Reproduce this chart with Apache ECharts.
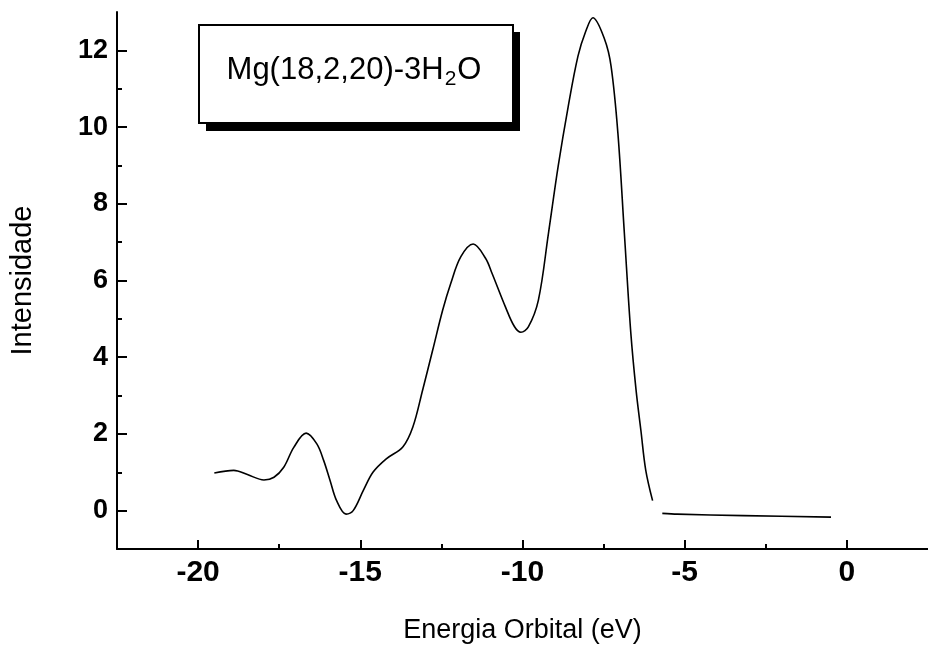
<!DOCTYPE html>
<html>
<head>
<meta charset="utf-8">
<script src="https://cdn.jsdelivr.net/npm/echarts@6/dist/echarts.min.js"></script>
<style>
html,body{margin:0;padding:0;background:#fff;}
#chart{width:928px;height:650px;}
</style>
</head>
<body>
<div id="chart"></div>
<script>
// Main curve (eV, intensity)
const energy = [-19.5, -18.9, -18.48, -17.97, -17.66, -17.36, -17.05, -16.67, -16.34, -16.13, -15.93, -15.73, -15.44, -15.22, -14.91, -14.61, -14.2, -13.69, -13.38, -13.08, -12.77, -12.46, -12.21, -11.9, -11.52, -11.14, -10.94, -10.53, -10.25, -10.05, -9.82, -9.51, -9.2, -8.9, -8.59, -8.29, -8.05, -7.83, -7.47, -7.27, -7.06, -6.86, -6.66, -6.5, -6.35, -6.2, -5.99];
const intensity = [0.98, 1.05, 0.94, 0.80, 0.87, 1.13, 1.65, 2.02, 1.74, 1.31, 0.78, 0.26, -0.09, 0.0, 0.52, 1.0, 1.35, 1.66, 2.18, 3.14, 4.18, 5.23, 5.93, 6.62, 6.95, 6.58, 6.19, 5.32, 4.8, 4.65, 4.79, 5.49, 7.23, 8.98, 10.54, 11.85, 12.5, 12.85, 12.29, 11.59, 9.85, 7.23, 4.62, 3.15, 2.09, 1.05, 0.26];
// Flat tail segment
const tailEnergy = [-5.69, -5.23, -3.19, -0.49];
const tailIntensity = [-0.07, -0.09, -0.13, -0.17];
// Ticks
const xMajorTicks = [-20, -15, -10, -5, 0];
const xMinorTicks = [-17.5, -12.5, -7.5, -2.5];
const yMajorTicks = [0, 2, 4, 6, 8, 10, 12];
const yMinorTicks = [1, 3, 5, 7, 9, 11];
const legendLabel = 'Mg(18,2,20)-3H';
const xTitle = 'Energia Orbital (eV)';
const yTitle = 'Intensidade';

const FONT = '"Liberation Sans", Arial, Helvetica, sans-serif';
const chart = echarts.init(document.getElementById('chart'), null, {renderer: 'canvas'});

const mainData = energy.map((x, i) => [x, intensity[i]]);
const tailData = tailEnergy.map((x, i) => [x, tailIntensity[i]]);

const X_MIN = -22.5, X_MAX = 2.5, Y_MIN = -1, Y_MAX = 13;

function tickAxis(min, max, pos, values, len) {
  return {
    type: 'value', min: min, max: max, position: pos,
    axisLine: {show: false, onZero: false},
    splitLine: {show: false},
    axisTick: {show: true, inside: true, length: len, customValues: values, lineStyle: {color: '#000', width: 2}},
    axisLabel: {show: false}
  };
}

chart.setOption({
  animation: false,
  backgroundColor: '#fff',
  grid: {left: 116, right: 0, top: 12, bottom: 101, containLabel: false},
  xAxis: [{
    type: 'value', min: X_MIN, max: X_MAX, position: 'bottom',
    axisLine: {show: true, onZero: false, lineStyle: {color: '#000', width: 2}},
    splitLine: {show: false},
    axisTick: {show: false},
    axisLabel: {show: true, customValues: xMajorTicks, margin: 9, color: '#000', fontFamily: FONT, fontWeight: 'bold', fontSize: 30},
    name: xTitle, nameLocation: 'middle', nameGap: 68,
    nameTextStyle: {color: '#000', fontFamily: FONT, fontSize: 27}
  },
    tickAxis(X_MIN, X_MAX, 'bottom', xMajorTicks, 9),
    tickAxis(X_MIN, X_MAX, 'bottom', xMinorTicks, 5)
  ],
  yAxis: [{
    type: 'value', min: Y_MIN, max: Y_MAX, position: 'left',
    axisLine: {show: true, onZero: false, lineStyle: {color: '#000', width: 2}},
    splitLine: {show: false},
    axisTick: {show: false},
    axisLabel: {show: true, customValues: yMajorTicks, margin: 9, color: '#000', fontFamily: FONT, fontWeight: 'bold', fontSize: 27},
    name: yTitle, nameLocation: 'middle', nameGap: 80, nameRotate: 90,
    nameTextStyle: {color: '#000', fontFamily: FONT, fontSize: 29}
  },
    tickAxis(Y_MIN, Y_MAX, 'left', yMajorTicks, 10),
    tickAxis(Y_MIN, Y_MAX, 'left', yMinorTicks, 5)
  ],
  series: [{
    type: 'line', xAxisIndex: 0, yAxisIndex: 0, data: mainData,
    smooth: 0.35, showSymbol: false, symbol: 'none',
    lineStyle: {color: '#000', width: 1.6}
  }, {
    type: 'line', xAxisIndex: 0, yAxisIndex: 0, data: tailData,
    smooth: 0.3, showSymbol: false, symbol: 'none',
    lineStyle: {color: '#000', width: 1.6}
  }],
  graphic: [
    {type: 'rect', left: 206, top: 32, shape: {width: 314, height: 99}, style: {fill: '#000'}, z: 10},
    {type: 'rect', left: 198, top: 24, shape: {width: 314, height: 98}, style: {fill: '#fff', stroke: '#000', lineWidth: 2}, z: 11},
    {type: 'text', x: 354, y: 70, z: 12,
      style: {
        text: '{m|' + legendLabel + '}{s|2}{m|O}',
        align: 'center', verticalAlign: 'middle',
        rich: {
          m: {fontFamily: FONT, fontSize: 31, fill: '#000', color: '#000'},
          s: {fontFamily: FONT, fontSize: 21, fill: '#000', color: '#000', verticalAlign: 'bottom', padding: [18, 1, 0, 1]}
        }
      }
    }
  ]
});
</script>
</body>
</html>
